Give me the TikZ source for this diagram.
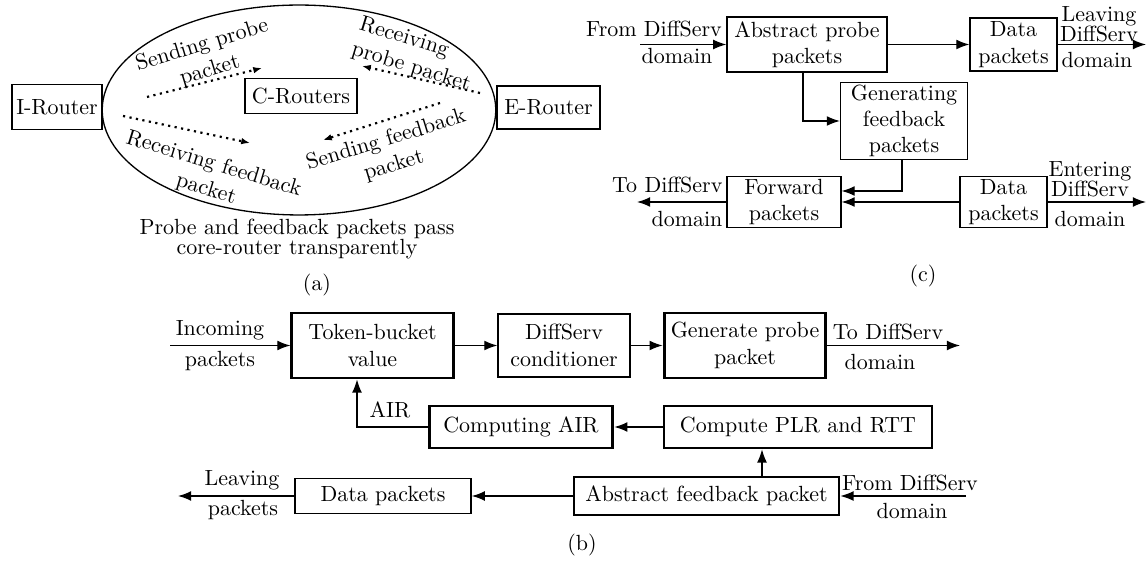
\documentclass[tikz,border=0pt]{standalone}
\usetikzlibrary{arrows.meta,shapes.geometric}

\tikzset{
  blk/.style={draw, align=center, inner sep=1pt},
  tblk/.style={blk, line width=1.3pt},
  lbl/.style={align=center, inner sep=0pt},
  dotarr/.style={dotted, line width=1pt, -{Latex[length=4pt,width=3pt]}},
}

\begin{document}
\begin{tikzpicture}[x=0.016cm, y=-0.016cm, line width=0.6pt, >={Latex[length=6pt,width=4.5pt]}]
\useasboundingbox (0,0) rectangle (1148,561);

% (a) ingress / core / egress
\node [ellipse, draw, minimum width=6.3cm, minimum height=3.36cm] (core) at (299,110) {};
\node [blk, minimum width=1.44cm, minimum height=0.72cm] (irt) at (57,107) {I-Router};
\node [blk, minimum width=1.65cm, minimum height=0.69cm] (ert) at (548.5,107.5) {E-Router};
\node [blk, minimum width=1.79cm, minimum height=0.56cm] (crt) at (301,96) {C-Routers};

\node [lbl, rotate=17] (sprobe) at (206,58) {Sending probe\\packet};
\node [lbl, rotate=-17] (rfeed) at (210,177) {Receiving feedback\\packet};
\node [lbl, rotate=-17, align=left] (rprobe) at (415,55) {Receiving\\probe packet};
\node [lbl, rotate=17] (sfeed) at (390,153) {Sending feedback\\packet};

\coordinate (sp1) at (147,97);  \coordinate (sp2) at (262,68);
\coordinate (rf1) at (123,116); \coordinate (rf2) at (250,143);
\coordinate (rp1) at (480,93);  \coordinate (rp2) at (362,66);
\coordinate (sf1) at (440,103); \coordinate (sf2) at (323,140);
\draw [dotarr] (sp1) -- (sp2);
\draw [dotarr] (rf1) -- (rf2);
\draw [dotarr] (rp1) -- (rp2);
\draw [dotarr] (sf1) -- (sf2);

\node [lbl] (capa) at (297,239) {Probe and feedback packets pass\\[-3pt]core-router transparently};
\node [lbl] (taga) at (317,285) {(a)};

% (c)
\node [blk, minimum width=2.56cm, minimum height=0.88cm] (abprobe) at (807,44.5) {Abstract probe\\packets};
\node [blk, minimum width=1.39cm, minimum height=0.85cm] (datatop) at (1013.5,44.5) {Data\\packets};
\node [blk, minimum width=2.03cm, minimum height=1.18cm] (genfb) at (904,121) {Generating\\feedback\\packets};
\node [blk, minimum width=1.82cm, minimum height=0.82cm] (fwd) at (784,202) {Forward\\packets};
\node [blk, minimum width=1.39cm, minimum height=0.82cm] (databot) at (1003.5,202) {Data\\packets};

\coordinate (cin) at (640,44.5);
\coordinate (cout) at (1146,44.5);
\coordinate (cto) at (637,202);
\coordinate (cent) at (1146,202);
\coordinate (fbx) at (803,0);
\coordinate (gfx) at (902,191);

\node [lbl] (cfrom) at (654,29) {From DiffServ};
\node [lbl] (cfromd) at (677,56) {domain};
\node [lbl] (cleave) at (1099,24) {Leaving\\[-3pt]DiffServ};
\node [lbl] (cleaved) at (1097,60) {domain};
\node [lbl, anchor=east] (cto1) at (723,185) {To DiffServ};
\node [lbl, anchor=east] (cto2) at (723,219) {domain};
\node [lbl] (cent1) at (1090,179) {Entering\\[-3pt]DiffServ};
\node [lbl] (cent2) at (1090,219) {domain};

\draw [->] (cin) -- (abprobe);
\path [->] (abprobe) edge (datatop);
\draw [->] (datatop) -- (cout);
\draw [->] (abprobe.south -| fbx) |- (genfb);
\draw [->] (genfb.south -| gfx) |- (fwd.east |- gfx);
\draw [->] (databot) -- (fwd);
\draw [->] (databot) -- (cent);
\draw [->] (fwd) -- (cto);

\node [lbl] (tagc) at (923,276) {(c)};

% (b)
\node [tblk, minimum width=2.58cm, minimum height=1.04cm] (token) at (372.5,345.5) {Token-bucket\\value};
\node [blk, minimum width=2.11cm, minimum height=1.01cm] (cond) at (564,345.5) {DiffServ\\conditioner};
\node [tblk, minimum width=2.59cm, minimum height=1.04cm] (genpr) at (745,345.5) {Generate probe\\packet};
\node [tblk, minimum width=2.94cm, minimum height=0.67cm] (cair) at (521,427) {Computing AIR};
\node [tblk, minimum width=4.29cm, minimum height=0.67cm] (cplr) at (798,427) {Compute PLR and RTT};
\node [tblk, minimum width=4.24cm, minimum height=0.61cm] (abfb) at (706.5,496) {Abstract feedback packet};
\node [blk, minimum width=2.82cm, minimum height=0.56cm] (datab) at (383,496) {Data packets};

\coordinate (bin) at (170,345.5);
\coordinate (bto) at (960,345.5);
\coordinate (bfrom) at (966,496);
\coordinate (bleave) at (178,496);
\coordinate (airx) at (357,0);
\coordinate (fbup) at (762,0);

\node [lbl] (inc1) at (220,330) {Incoming};
\node [lbl] (inc2) at (220,361) {packets};
\node [lbl] (bto1) at (888,332) {To DiffServ};
\node [lbl] (bto2) at (880,362) {domain};
\node [lbl] (air) at (390,410) {AIR};
\node [lbl] (bfr1) at (910,483) {From DiffServ};
\node [lbl] (bfr2) at (912,511) {domain};
\node [lbl] (lv1) at (242,480) {Leaving};
\node [lbl] (lv2) at (243,510) {packets};

\draw [->] (bin) -- (token);
\path [->] (token) edge (cond) (cond) edge (genpr);
\draw [->] (genpr) -- (bto);
\draw [->] (abfb.north -| fbup) -- (cplr.south -| fbup);
\draw [->] (cplr) -- (cair);
\draw [->] (cair.west) -| (token.south -| airx);
\draw [->] (bfrom) -- (abfb);
\draw [->] (abfb) -- (datab);
\draw [->] (datab) -- (bleave);

\node [lbl] (tagb) at (582,545) {(b)};

\end{tikzpicture}
\end{document}
